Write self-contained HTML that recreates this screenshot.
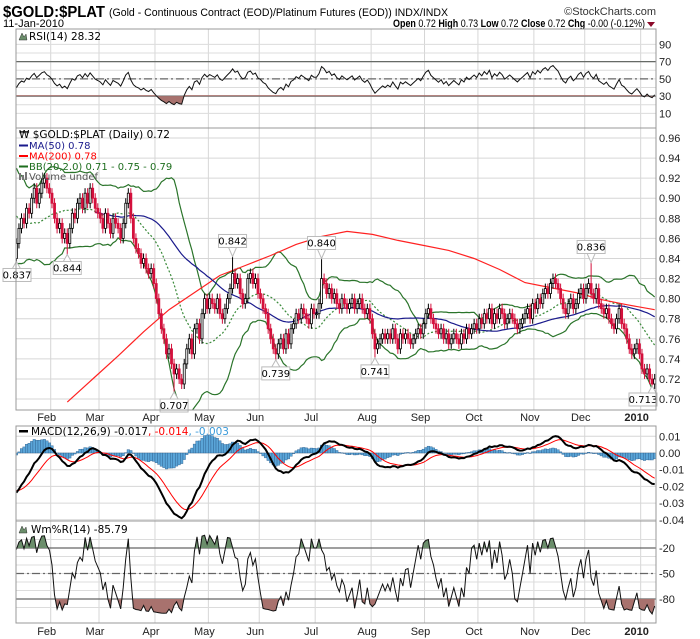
<!DOCTYPE html>
<html><head><meta charset="utf-8">
<style>
html,body{margin:0;padding:0;background:#fff;}
svg{display:block;font-family:"Liberation Sans",sans-serif;}
.ax{font-size:11px;fill:#222;}
.lg{font-family:"DejaVu Sans",sans-serif;font-size:10px;}
</style></head>
<body>
<svg id="chart" width="700" height="639" viewBox="0 0 700 639" xmlns="http://www.w3.org/2000/svg">
<rect width="700" height="639" fill="#fff"/>
<defs>
<clipPath id="cRsi"><rect x="16" y="29" width="640" height="99"/></clipPath>
<clipPath id="cMain"><rect x="16" y="128" width="640" height="282"/></clipPath>
<clipPath id="cMacd"><rect x="16" y="426" width="640" height="95"/></clipPath>
<clipPath id="cWr"><rect x="16" y="521" width="640" height="102"/></clipPath>
<clipPath id="cRsiLo"><rect x="16" y="95.1" width="640" height="40"/></clipPath>
<clipPath id="cRsiHi"><rect x="16" y="20" width="640" height="41.6"/></clipPath>
<clipPath id="cWrHi"><rect x="16" y="521" width="640" height="27"/></clipPath>
<clipPath id="cWrLo"><rect x="16" y="599" width="640" height="30"/></clipPath>
</defs>
<text x="3" y="17" font-weight="bold" font-size="16" textLength="102" lengthAdjust="spacingAndGlyphs">$GOLD:$PLAT</text>
<text x="109" y="16" font-size="11" textLength="339" lengthAdjust="spacingAndGlyphs">(Gold - Continuous Contract (EOD)/Platinum Futures (EOD))  INDX/INDX</text>
<text x="656" y="15" font-size="11" text-anchor="end" fill="#333">©StockCharts.com</text>
<text x="3" y="27" font-size="11">11-Jan-2010</text>
<text x="645" y="27" font-size="11" text-anchor="end" textLength="252" lengthAdjust="spacingAndGlyphs"><tspan font-weight="bold">Open</tspan> 0.72  <tspan font-weight="bold">High</tspan> 0.73  <tspan font-weight="bold">Low</tspan> 0.72  <tspan font-weight="bold">Close</tspan> 0.72  <tspan font-weight="bold">Chg</tspan> -0.00 (-0.12%)</text>
<path d="M647 22 L655 22 L651 27 Z" fill="#8b0a2a"/>
<g id="layers"></g>
<g class="lg">
<path d="M19 40 L22 33 L24 37 L26 34 L27 40 Z" fill="#6b8e6b" stroke="#333" stroke-width="0.5"/>
<text x="29" y="40" font-size="10.5">RSI(14) 28.32</text>
</g>
<g class="lg">
<text x="19" y="138" font-size="10.5">₩ $GOLD:$PLAT (Daily) 0.72</text>
<rect x="19" y="144.5" width="9" height="2" fill="#1a1a8c"/>
<text x="29" y="149" fill="#1a1a8c">MA(50) 0.78</text>
<rect x="19" y="155" width="9" height="2" fill="#f00"/>
<text x="29" y="159.5" fill="#f00">MA(200) 0.78</text>
<rect x="19" y="165.5" width="9" height="2" fill="#1e6e1e"/>
<text x="29" y="170" fill="#1e6e1e">BB(20,2.0) 0.71 - 0.75 - 0.79</text>
<rect x="19" y="173" width="2" height="7" fill="#777"/><rect x="22" y="175" width="2" height="5" fill="#777"/><rect x="25" y="172" width="2" height="8" fill="#777"/>
<text x="29" y="180" fill="#555">Volume undef</text>
</g>
<g class="lg">
<rect x="19" y="430" width="9" height="2.5" fill="#000"/>
<text x="31" y="435" font-size="10.5">MACD(12,26,9) -0.017<tspan fill="#f00">, -0.014</tspan><tspan fill="#3a9ad9">, -0.003</tspan></text>
</g>
<g class="lg">
<path d="M19 533 L22 526 L24 530 L26 527 L27 533 Z" fill="#6b8e6b" stroke="#333" stroke-width="0.5"/>
<text x="31" y="533" font-size="10.5">Wm%R(14) -85.79</text>
</g>
</svg>
<script>
// ---------- data ----------
const preCloses = [0.97,0.98,0.99,1.00,0.99,1.01,1.00,0.99,1.00,1.02,1.01,1.00,0.99,1.00,0.98,0.99,0.97,0.98,0.96,0.97,0.95,0.96,0.94,0.95,0.93,0.94,0.92,0.93,0.91,0.92,0.93,0.92,0.90,0.91,0.92,0.90,0.89,0.90,0.91,0.89,0.88,0.89,0.87,0.88,0.86,0.87,0.85,0.86,0.85,0.84];
const closes = [
0.855,0.870,0.880,0.875,0.890,0.885,0.900,0.910,0.895,0.905,0.915,0.920,0.910,0.905,
0.895,0.880,0.870,0.875,0.860,0.865,0.855,0.870,0.885,0.880,0.895,0.900,0.890,0.905,0.895,0.910,0.900,0.890,0.885,
0.880,0.870,0.885,0.875,0.865,0.880,0.875,0.870,0.860,0.875,0.895,0.905,0.880,0.860,0.850,0.845,0.835,0.840,0.830,0.825,0.830,0.815,
0.800,0.785,0.770,0.760,0.745,0.750,0.735,0.725,0.730,0.720,0.715,0.735,0.750,0.760,0.745,0.770,0.775,0.760,0.785,0.800,0.790,
0.800,0.795,0.790,0.800,0.785,0.780,0.790,0.800,0.810,0.825,0.815,0.820,0.805,0.795,0.800,0.820,0.825,0.815,0.820,0.805,
0.800,0.790,0.785,0.770,0.760,0.750,0.745,0.755,0.760,0.750,0.765,0.755,0.770,0.775,0.785,0.780,0.790,0.785,0.780,0.775,0.790,0.785,
0.785,0.795,0.820,0.815,0.805,0.810,0.800,0.805,0.795,0.790,0.800,0.795,0.790,0.795,0.800,0.790,0.795,0.800,0.790,0.785,0.790,0.780,
0.765,0.750,0.755,0.760,0.765,0.760,0.765,0.760,0.770,0.760,0.750,0.765,0.760,0.765,0.760,0.755,0.760,0.765,0.770,0.765,0.775,
0.785,0.790,0.780,0.775,0.770,0.765,0.770,0.760,0.765,0.755,0.760,0.765,0.760,0.755,0.765,0.760,0.770,0.765,0.770,0.775,0.770,
0.780,0.775,0.785,0.780,0.790,0.775,0.785,0.780,0.790,0.785,0.775,0.780,0.785,0.780,0.775,0.770,0.775,0.780,0.785,0.790,0.780,0.795,
0.790,0.800,0.795,0.805,0.810,0.805,0.815,0.820,0.815,0.810,0.800,0.790,0.785,0.795,0.800,0.790,0.795,0.805,0.810,0.800,
0.810,0.815,0.805,0.800,0.810,0.795,0.790,0.785,0.790,0.780,0.775,0.770,0.780,0.790,0.775,0.770,0.760,0.750,0.745,0.750,0.755,0.745,
0.730,0.725,0.730,0.720,0.715,0.720];
const ma200Idx = [20,30,40,50,60,70,80,90,100,110,120,130,140,150,160,170,180,190,200,210,220,230,240,251];
const ma200Val = [0.697,0.720,0.743,0.767,0.789,0.806,0.823,0.833,0.843,0.854,0.862,0.867,0.864,0.858,0.853,0.848,0.840,0.829,0.816,0.811,0.806,0.799,0.794,0.789];
const noteIdx = [0,20,62,85,102,120,141,226,250];
const noteVal = [0.837,0.844,0.707,0.842,0.739,0.840,0.741,0.836,0.713];
const noteHigh = [false,false,false,true,false,true,false,true,false];
const monthNames = ["Feb","Mar","Apr","May","Jun","Jul","Aug","Sep","Oct","Nov","Dec","2010"];
const monthStart = [14,33,55,76,96,118,140,161,182,204,224,246];
const priceTicks = [0.96,0.94,0.92,0.90,0.88,0.86,0.84,0.82,0.80,0.78,0.76,0.74,0.72,0.70];
const rsiTicks = [90,70,50,30,10];
const macdTicks = [0.01,0.00,-0.01,-0.02,-0.03,-0.04];
const wrTicks = [-20,-50,-80];

// ---------- scales ----------
const X = i => 16.4 + i*2.543;
const yP = p => 138 + (0.96-p)*1004;
const yR = v => 122 - v*0.862;
const yM = v => 453 - v*1670;
const yW = v => 531 - v*0.85;
const NS = "http://www.w3.org/2000/svg";
const root = document.getElementById('layers');
function el(tag, attrs, parent){ const e=document.createElementNS(NS,tag); for(const k in attrs) e.setAttribute(k,attrs[k]); (parent||root).appendChild(e); return e; }
function grp(clip){ const g=el('g', clip?{'clip-path':'url(#'+clip+')'}:{}); return g; }

// ---------- derived series ----------
const N = closes.length, P = preCloses.length;
const all = preCloses.concat(closes);
const opens = closes.map((c,i)=> i===0 ? preCloses[P-1] : closes[i-1]);
const highs = closes.map((c,i)=> Math.max(c,opens[i])+0.005);
const lows = closes.map((c,i)=> Math.min(c,opens[i])-0.005);
noteIdx.forEach((k,j)=>{ if(noteHigh[j]) highs[k]=noteVal[j]; else lows[k]=noteVal[j]; });
function sma(arr,n,k){ let s=0; for(let j=k-n+1;j<=k;j++) s+=arr[j]; return s/n; }
const ma50=[], bbM=[], bbU=[], bbL=[];
for(let i=0;i<N;i++){ const k=i+P;
  ma50.push(sma(all,50,k));
  const m=sma(all,20,k); let v=0; for(let j=k-19;j<=k;j++) v+=(all[j]-m)**2; const sd=Math.sqrt(v/20);
  bbM.push(m); bbU.push(m+2*sd); bbL.push(m-2*sd); }
// RSI
const rsi=[]; { let ag=0,al=0; for(let j=1;j<=14;j++){const d=all[j]-all[j-1]; if(d>0)ag+=d; else al-=d;} ag/=14; al/=14;
  for(let k=15;k<all.length;k++){ const d=all[k]-all[k-1]; ag=(ag*13+Math.max(d,0))/14; al=(al*13+Math.max(-d,0))/14;
    if(k>=P) rsi.push(al===0?100:100-100/(1+ag/al)); } }
// MACD
const macd=[], sig=[], hist=[]; { let e12=all[0],e26=all[0],s=0; const a12=2/13,a26=2/27,a9=2/10;
  for(let k=0;k<all.length;k++){ e12+=a12*(all[k]-e12); e26+=a26*(all[k]-e26); const m=e12-e26; s = k===0?m: s+a9*(m-s);
    if(k>=P){ macd.push(m); sig.push(s); hist.push(m-s);} } }
// Williams %R
const wr=[]; for(let i=0;i<N;i++){ let hh=-1,ll=9; for(let j=Math.max(0,i-13);j<=i;j++){hh=Math.max(hh,highs[j]); ll=Math.min(ll,lows[j]);}
  wr.push(hh===ll?-50:(hh-closes[i])/(hh-ll)*-100); }

function linePath(vals, ys, start){ let d=''; for(let i=start||0;i<vals.length;i++){ d+=(d?'L':'M')+X(i).toFixed(1)+' '+ys(vals[i]).toFixed(1);} return d; }

// ---------- panel frames & grids ----------
const panels=[[29,128],[128,410],[426,521],[521,623]];
const gg = grp();
monthStart.forEach((m,j)=>{ const x=X(m)-1.3;
  panels.forEach(p=>{ const l=el('line',{x1:x,x2:x,y1:p[0],y2:p[1],stroke:'#d6d6d6','stroke-width':1},gg);
    
     });
  [421,635].forEach(ty=>{ const t=el('text',{x:x-4,y:ty,'text-anchor':'middle','font-size':11,fill:'#222','font-weight':j===11?'bold':'normal'},gg);
    t.textContent=monthNames[j];
    
     });
});
for(let v=10; v<=90; v+=10){ const l=el('line',{x1:16,x2:656,y1:yR(v),y2:yR(v),stroke:'#dcdcdc'},gg);
  
   }
for(let v=0.70; v<0.965; v+=0.02){ const l=el('line',{x1:16,x2:656,y1:yP(v),y2:yP(v),stroke:'#d6d6d6'},gg);
  
   }
macdTicks.forEach(v=>{ const l=el('line',{x1:16,x2:656,y1:yM(v),y2:yM(v),stroke:'#d6d6d6'},gg);
  
   });
for(let v=-10; v>=-90; v-=10){ const l=el('line',{x1:16,x2:656,y1:yW(v),y2:yW(v),stroke:'#dcdcdc'},gg);
  
   }
// reference lines
[[yR(70),''],[yR(30),''],[yR(50),'8 3 2 3'],[yW(-20),''],[yW(-80),''],[yW(-50),'8 3 2 3']].forEach(r=>{
  const l=el('line',{x1:16,x2:656,y1:r[0],y2:r[0],stroke:'#666','stroke-width':1.2,'stroke-dasharray':r[1]},gg);
  
   });

// axis labels
function axisLabels(ticks, ys, fmt, name){ ticks.forEach(v=>{ const t=el('text',{x:659,y:ys(v)+4,'font-size':11,fill:'#222'});
  t.textContent=fmt(v);
  
   }); }
axisLabels(rsiTicks,yR,v=>String(v),'rsi-axis-label');
axisLabels(priceTicks,yP,v=>v.toFixed(2),'price-axis-label');
axisLabels(macdTicks,yM,v=>v.toFixed(2),'macd-axis-label');
axisLabels(wrTicks,yW,v=>String(v),'williams-axis-label');

// ---------- RSI ----------
const gR = grp('cRsi');
const rsiD = linePath(rsi,yR);
const fLo=el('path',{d:rsiD+'L'+X(N-1)+' '+yR(30)+'L'+X(0)+' '+yR(30)+'Z',fill:'#a8726e','clip-path':'url(#cRsiLo)'},gR);


const fHi=el('path',{d:rsiD+'L'+X(N-1)+' '+yR(70)+'L'+X(0)+' '+yR(70)+'Z',fill:'#6b8e6b','clip-path':'url(#cRsiHi)'},gR);


const rl=el('path',{d:rsiD,fill:'none',stroke:'#111','stroke-width':1},gR);



// ---------- main price ----------
const gP = grp('cMain');
const bbu=el('path',{d:linePath(bbU,yP),fill:'none',stroke:'#2a742a','stroke-width':1.2},gP);


const bbl=el('path',{d:linePath(bbL,yP),fill:'none',stroke:'#2a742a','stroke-width':1.2},gP);


const bbm=el('path',{d:linePath(bbM,yP),fill:'none',stroke:'#3a8a3a','stroke-width':1.2,'stroke-dasharray':'2 2'},gP);


let d200=''; ma200Idx.forEach((k,j)=>{ d200+=(j?'L':'M')+X(k).toFixed(1)+' '+yP(ma200Val[j]).toFixed(1); });
const m200=el('path',{d:d200,fill:'none',stroke:'#f22','stroke-width':1.2},gP);


const m50=el('path',{d:linePath(ma50,yP,31),fill:'none',stroke:'#1a1a8c','stroke-width':1.2},gP);


for(let i=0;i<N;i++){
  const up = closes[i]>=opens[i]; const col = up?'#000':'#d4103c'; const x=X(i);
  const w=el('line',{x1:x,x2:x,y1:yP(highs[i]),y2:yP(lows[i]),stroke:col,'stroke-width':1},gP);
  
  
  const top=yP(Math.max(opens[i],closes[i])), bot=yP(Math.min(opens[i],closes[i]));
  const b=el('rect',{x:x-1,y:top,width:2,height:Math.max(1,bot-top),fill:up?'#fff':col,stroke:col,'stroke-width':0.8},gP);
  
  
}
noteIdx.forEach((k,j)=>{
  const hi=noteHigh[j]; const px=X(k); const py=yP(noteVal[j]);
  let bx=Math.min(Math.max(px-14,3),629); const by=hi?py-22:py+7;
  const g=el('g',{});
  
  
  el('path',{d:hi?`M${px-4} ${by+13} L${px} ${py} L${px+4} ${by+13}`:`M${px-4} ${by} L${px} ${py} L${px+4} ${by}`,fill:'#fff',stroke:'#bbb'},g);
  el('rect',{x:bx,y:by,width:28,height:13,fill:'#fff',stroke:'#bbb'},g);
  const t=el('text',{x:bx+14,y:by+10,'text-anchor':'middle','font-size':10,class:'lg'},g);
  t.textContent=noteVal[j].toFixed(3);
});

// ---------- MACD ----------
const gM = grp('cMacd');
for(let i=0;i<N;i++){ const y0=yM(0), y1=yM(hist[i]);
  const b=el('rect',{x:X(i)-1.27,y:Math.min(y0,y1),width:2.543,height:Math.max(0.5,Math.abs(y1-y0)),fill:'#5aa5d8',stroke:'#2b5d8c','stroke-width':0.4},gM);
  
   }
const sl=el('path',{d:linePath(sig,yM),fill:'none',stroke:'#f00','stroke-width':1},gM);


const ml=el('path',{d:linePath(macd,yM),fill:'none',stroke:'#000','stroke-width':2},gM);



// ---------- Williams %R ----------
const gW = grp('cWr');
const wrD = linePath(wr,yW);
const wHi=el('path',{d:wrD+'L'+X(N-1)+' '+yW(-20)+'L'+X(0)+' '+yW(-20)+'Z',fill:'#6b8e6b','clip-path':'url(#cWrHi)'},gW);


const wLo=el('path',{d:wrD+'L'+X(N-1)+' '+yW(-80)+'L'+X(0)+' '+yW(-80)+'Z',fill:'#a8726e','clip-path':'url(#cWrLo)'},gW);


const wl=el('path',{d:wrD,fill:'none',stroke:'#111','stroke-width':1},gW);



// panel borders
panels.forEach(p=>{ const r=el('rect',{x:16,y:p[0],width:640,height:p[1]-p[0],fill:'none',stroke:'#999','stroke-width':1});
  
   });
</script>
</body></html>
